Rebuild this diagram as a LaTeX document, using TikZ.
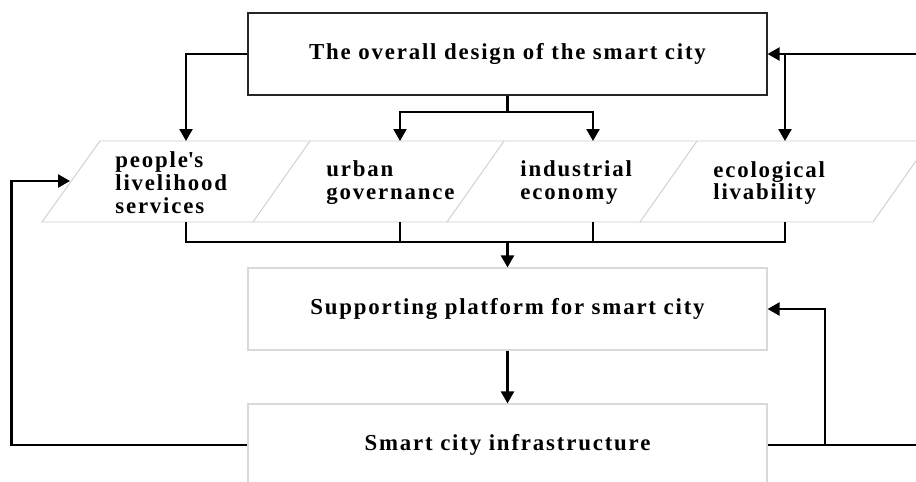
\documentclass[tikz,border=0pt]{standalone}
\usepackage{fontspec}
\setmainfont{Liberation Serif}
\usetikzlibrary{arrows.meta}
\newcommand{\spaced}{\fontsize{13}{13}\bfseries\addfontfeatures{LetterSpace=8}}

\begin{document}
\begin{tikzpicture}[x=0.02cm, y=-0.02cm] \tikzset{>={Triangle[width=2.6mm,length=2.4mm]},
  link/.style={line width=1.3pt},
  topbox/.style={draw=black!85, line width=0.7pt, minimum width=10.38cm, minimum height=1.64cm, inner sep=0pt, font=\spaced},
  lowbox/.style={draw=black!15, line width=0.7pt, minimum width=10.38cm, minimum height=1.64cm, inner sep=0pt, font=\spaced},
  cellline/.style={draw=black!20, line width=0.5pt},
  cell/.style={align=left, inner sep=0pt, anchor=west, font=\spaced}}
\useasboundingbox (0,0) rectangle (916,481);
\clip (0,0) rectangle (916,481);
\node[topbox] (design) at (507.5,54) {The overall design of the smart city};
\node[lowbox] (support) at (507.5,309) {Supporting platform for smart city};
\node[lowbox] (infra) at (507.5,445) {Smart city infrastructure};
\draw[cellline] (42,222) -- (100,141) -- (930,141) -- (873,222) -- cycle;
\foreach \x in {253,447,640}
\draw[cellline] (\x,222) -- (\x+57,141);
\node[cell] (people) at (115,183) {people\textquotesingle s\\livelihood\\services};
\node[cell] (urban) at (326,182.5) {urban\\governance};
\node[cell] (industry) at (520,182.5) {industrial\\economy};
\node[cell] (ecology) at (713,183) {ecological\\livability};
\coordinate (pin1) at (186,141);
\coordinate (pin2) at (400,141);
\coordinate (pin3) at (593,141);
\coordinate (pin4) at (785,141);
\coordinate (pout1) at (186,222);
\coordinate (pout2) at (400,222);
\coordinate (pout3) at (593,222);
\coordinate (pout4) at (785,222);
\coordinate (split) at (507.5,112);
\coordinate (merge) at (507.5,242);
\coordinate (pside) at (70,181);
\coordinate (rtop) at (930,54);
\coordinate (rbot) at (930,445);
\coordinate (rise) at (825,445);
\draw[link,->] (design.west) -| (pin1);
\draw[link] (design.south) -- (split);
\draw[link,->] (split) -| (pin2);
\draw[link,->] (split) -| (pin3);
\draw[link,->] (rtop) -- (design.east);
\draw[link,->] (design.east -| pin4) -- (pin4);
\draw[link] (pout1) |- (pout4 |- merge) -- (pout4);
\draw[link] (pout2) -- (pout2 |- merge);
\draw[link] (pout3) -- (pout3 |- merge);
\draw[link,->] (merge) -- (support.north);
\draw[link,->] (support) -- (infra);
\draw[link,->] (infra.west) -- ++(-236,0) |- (pside);
\draw[link] (infra.east) -- (rbot);
\draw[link,->] (rise) |- (support.east);
\end{tikzpicture}
\end{document}
